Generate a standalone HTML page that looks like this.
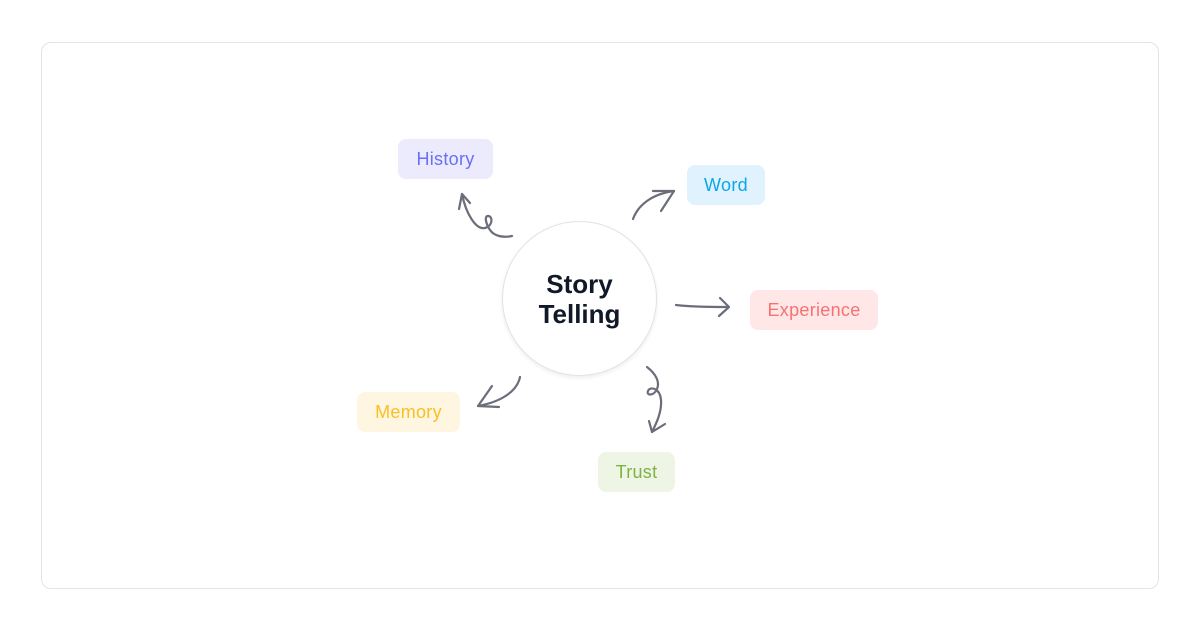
<!DOCTYPE html>
<html>
<head>
<meta charset="utf-8">
<style>
  html, body { margin: 0; padding: 0; background: #ffffff; }
  body { width: 1200px; height: 630px; position: relative; overflow: hidden; font-family: "Liberation Sans", sans-serif; }
  .card { position: absolute; left: 41px; top: 42px; width: 1118px; height: 547px; border: 1px solid #e4e4e7; border-radius: 10px; background: #fff; box-sizing: border-box; }
  .circle { position: absolute; left: 502px; top: 221px; width: 155px; height: 155px; border-radius: 50%; border: 1px solid #e2e2e2; box-sizing: border-box; background: #fff; box-shadow: 0 2px 4px rgba(0,0,0,0.07); display: flex; align-items: center; justify-content: center; text-align: center; }
  .circle span { font-weight: bold; font-size: 26px; line-height: 30px; color: #111827; }
  .tag { position: absolute; height: 40px; border-radius: 8px; display: flex; align-items: center; justify-content: center; font-size: 18px; letter-spacing: 0.3px; box-sizing: border-box; }
  svg { position: absolute; left: 0; top: 0; }
</style>
</head>
<body>
  <div class="card"></div>
  <div class="circle"><span>Story<br>Telling</span></div>

  <div class="tag" style="left:398px; top:139px; width:95px; background:#ebebfd; color:#6b6ff4;">History</div>
  <div class="tag" style="left:687px; top:165px; width:78px; background:#e0f2fe; color:#0ea5e9;">Word</div>
  <div class="tag" style="left:750px; top:290px; width:128px; background:#fee7e6; color:#f87171;">Experience</div>
  <div class="tag" style="left:357px; top:392px; width:103px; background:#fef6e1; color:#fbbf24;">Memory</div>
  <div class="tag" style="left:598px; top:452px; width:77px; background:#eef5e4; color:#7cb342;">Trust</div>

  <svg width="1200" height="630" viewBox="0 0 1200 630">
    <g fill="none" stroke="#6b6e7a" stroke-width="2.2" stroke-linecap="round" stroke-linejoin="round">
      <!-- History -->
      <path d="M512,236 C503,238 494,236 490,230 C486,224 484,216 488,216 C493,216 493,226 485,228 C476,230 466,214 462,194"/>
      <path d="M459,209 L462,194 L470,203"/>
      <!-- Word -->
      <path d="M633,219 C638,205 652,194 674,191"/>
      <path d="M653,191 L674,191 L661,211"/>
      <!-- Experience -->
      <path d="M676,305 C692,307 710,307 728,307"/>
      <path d="M720,298 L729,307 L719,316"/>
      <!-- Memory -->
      <path d="M520,377 C517,392 500,402 478,406"/>
      <path d="M492,386 L478,406 L499,407"/>
      <!-- Trust -->
      <path d="M647,367 C656,374 660,382 657,389 C654,396 646,396 648,391 C650,386 660,388 661,400 C662,412 656,424 652,432"/>
      <path d="M649,421 L652,432 L665,424"/>
    </g>
  </svg>
</body>
</html>
